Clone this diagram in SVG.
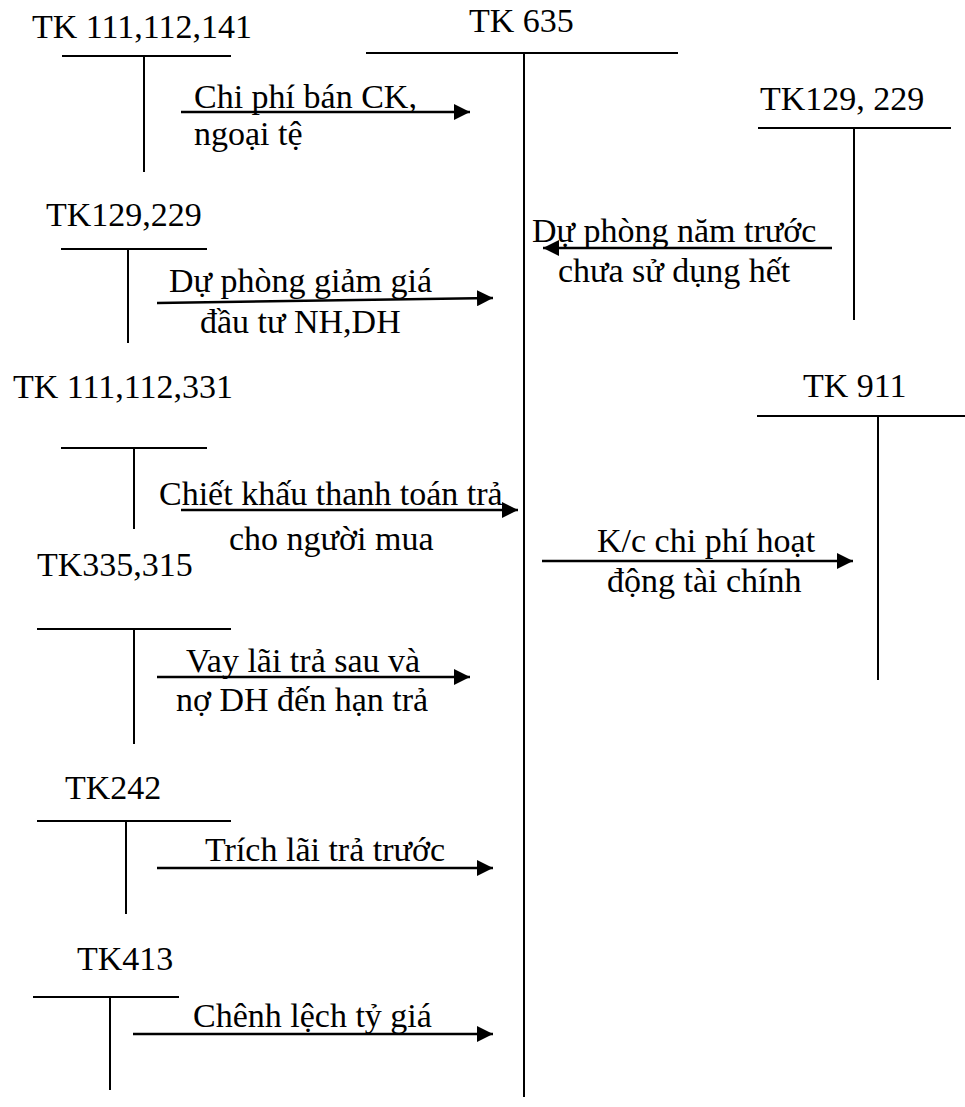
<svg xmlns="http://www.w3.org/2000/svg" width="965" height="1107" viewBox="0 0 965 1107" font-family="'Liberation Serif', 'DejaVu Serif', serif" font-size="34">
<style>
text{font-family:'Liberation Serif','DejaVu Serif',serif;font-size:34px;fill:#000}
.t{stroke:#000;stroke-width:2;fill:none}
.a{stroke:#000;stroke-width:2.5;fill:none;marker-end:url(#ah)}
</style>
<defs>
<marker id="ah" markerUnits="userSpaceOnUse" markerWidth="18" markerHeight="16" refX="16" refY="8" orient="auto">
<path d="M0,0 L16,8 L0,16 Z" fill="#000"/>
</marker>
</defs>
<rect width="965" height="1107" fill="#fff"/>
<g id="tk635">
<text x="469" y="32">TK 635</text>
<line class="t" x1="366" y1="53" x2="678" y2="53"/>
<line class="t" x1="524" y1="53" x2="524" y2="1097"/>
</g>
<g id="tk111_112_141">
<text x="32" y="38">TK 111,112,141</text>
<line class="t" x1="62" y1="56" x2="231" y2="56"/>
<line class="t" x1="144" y1="56" x2="144" y2="172"/>
</g>
<g id="tk129_229_right">
<text x="760" y="110">TK129, 229</text>
<line class="t" x1="758" y1="128" x2="951" y2="128"/>
<line class="t" x1="854" y1="128" x2="854" y2="320"/>
</g>
<g id="tk129_229_left">
<text x="46" y="226">TK129,229</text>
<line class="t" x1="61" y1="249" x2="207" y2="249"/>
<line class="t" x1="128" y1="249" x2="128" y2="343"/>
</g>
<g id="tk111_112_331">
<text x="13" y="398">TK 111,112,331</text>
<line class="t" x1="61" y1="448" x2="207" y2="448"/>
<line class="t" x1="134" y1="448" x2="134" y2="529"/>
</g>
<g id="tk911">
<text x="803" y="397">TK 911</text>
<line class="t" x1="757" y1="416" x2="965" y2="416"/>
<line class="t" x1="878" y1="416" x2="878" y2="680"/>
</g>
<g id="tk335_315">
<text x="37" y="576">TK335,315</text>
<line class="t" x1="37" y1="629" x2="231" y2="629"/>
<line class="t" x1="134" y1="629" x2="134" y2="744"/>
</g>
<g id="tk242">
<text x="65" y="799">TK242</text>
<line class="t" x1="37" y1="821" x2="231" y2="821"/>
<line class="t" x1="126" y1="821" x2="126" y2="914"/>
</g>
<g id="tk413">
<text x="77" y="970">TK413</text>
<line class="t" x1="33" y1="997" x2="179" y2="997"/>
<line class="t" x1="110" y1="997" x2="110" y2="1090"/>
</g>
<g id="connectors">
<line class="a" x1="181" y1="112" x2="470" y2="112"/>
<line class="a" x1="832" y1="248" x2="543" y2="248"/>
<line class="a" x1="157" y1="303" x2="493" y2="298"/>
<line class="a" x1="181" y1="510" x2="518" y2="510"/>
<line class="a" x1="542" y1="561" x2="853" y2="561"/>
<line class="a" x1="157" y1="677" x2="470" y2="677"/>
<line class="a" x1="157" y1="868" x2="493" y2="868"/>
<line class="a" x1="133" y1="1034" x2="493" y2="1034"/>
</g>
<g id="labels">
<text x="194" y="108">Chi phí bán CK,</text>
<text x="194" y="145">ngoại tệ</text>
<text x="532" y="242">Dự phòng năm trước</text>
<text x="558" y="282">chưa sử dụng hết</text>
<text x="169" y="292">Dự phòng giảm giá</text>
<text x="200" y="333">đầu tư NH,DH</text>
<text x="159" y="505">Chiết khấu thanh toán trả</text>
<text x="229" y="550">cho người mua</text>
<text x="597" y="552">K/c chi phí hoạt</text>
<text x="607" y="592">động tài chính</text>
<text x="186" y="672">Vay lãi trả sau và</text>
<text x="176" y="711">nợ DH đến hạn trả</text>
<text x="205" y="861">Trích lãi trả trước</text>
<text x="193" y="1027">Chênh lệch tỷ giá</text>
</g>
</svg>
